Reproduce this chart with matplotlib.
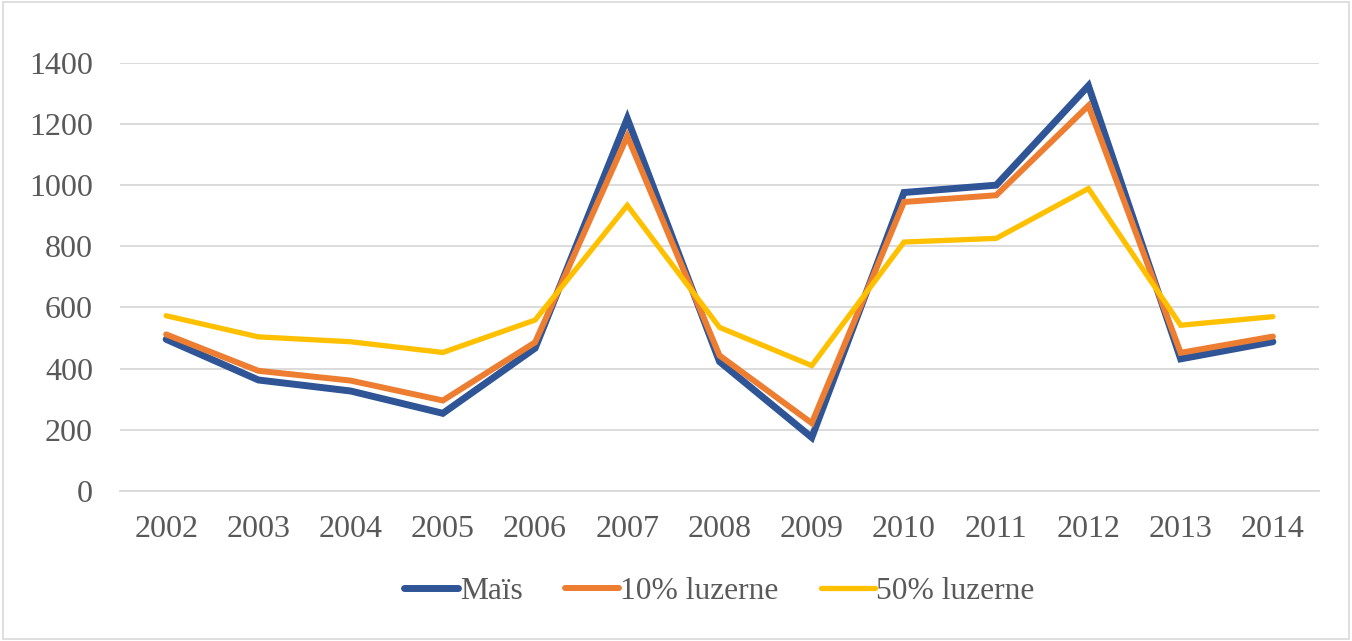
import matplotlib
matplotlib.use("Agg")
import matplotlib.pyplot as plt
from matplotlib.patches import Rectangle

years = ["2002", "2003", "2004", "2005", "2006", "2007", "2008",
         "2009", "2010", "2011", "2012", "2013", "2014"]
mais = [496, 363, 327, 254, 467, 1218, 423, 175, 976, 1000, 1325, 432, 488]
luzerne_10 = [512, 393, 361, 296, 486, 1160, 443, 222, 945, 967, 1260, 452, 505]
luzerne_50 = [573, 504, 488, 453, 559, 934, 535, 410, 814, 826, 989, 542, 570]

SERIES = [
    ("Maïs", mais, "#2F5597", 5.0),
    ("10% luzerne", luzerne_10, "#ED7D31", 4.3),
    ("50% luzerne", luzerne_50, "#FFC000", 3.8),
]

TEXT_COLOR = "#595959"
GRID_COLOR = "#D9D9D9"

plt.rcParams["font.family"] = ["Liberation Serif", "DejaVu Serif"]

fig = plt.figure(figsize=(13.52, 6.41), dpi=100)
ax = fig.add_axes([0.0888, 0.234, 0.8868, 0.668])

x = list(range(len(years)))
for label, values, color, lw in SERIES:
    ax.plot(x, values, color=color, lw=lw, label=label,
            solid_capstyle="round", solid_joinstyle="miter")

ax.set_xlim(-0.5, len(years) - 0.5)
ax.set_ylim(0, 1400)
ax.set_yticks(range(0, 1401, 200))
ax.set_xticks(x)
ax.set_xticklabels(years)

ax.grid(axis="y", color=GRID_COLOR, lw=1.3)
ax.set_axisbelow(True)
for side in ["top", "right", "left"]:
    ax.spines[side].set_visible(False)
ax.spines["bottom"].set_color(GRID_COLOR)
ax.spines["bottom"].set_linewidth(1.3)
ax.tick_params(length=0, labelsize=23, colors=TEXT_COLOR)
ax.tick_params(axis="x", pad=17)
ax.tick_params(axis="y", pad=19.5)

leg = ax.legend(loc="center", bbox_to_anchor=(0.5, -0.235), ncol=3,
                frameon=False, fontsize=22.7, handlelength=1.7,
                handletextpad=0.05, columnspacing=1.35)
for text in leg.get_texts():
    text.set_color(TEXT_COLOR)

fig.patches.append(Rectangle((0.002, 0.003), 0.996, 0.994, transform=fig.transFigure,
                             fill=False, edgecolor=GRID_COLOR, lw=1.2))

fig.savefig("out.png", dpi=100)
